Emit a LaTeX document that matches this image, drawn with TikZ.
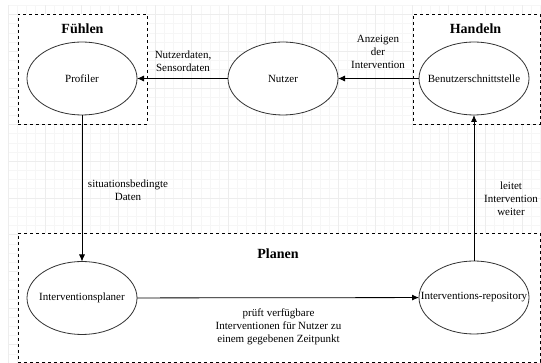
\documentclass[tikz,border=0pt]{standalone}
\usepackage{fontspec}
\setmainfont{Liberation Serif}
\usetikzlibrary{arrows.meta,shapes.geometric}
\begin{document}
\begin{tikzpicture}[x=1pt,y=-1pt,
  font=\fontsize{11}{13}\selectfont,
  group/.style={draw=black,fill=white,dash pattern=on 3pt off 3pt,line width=0.8pt},
  proc/.style={ellipse,draw=black!80,fill=white,line width=0.8pt,minimum width=110pt,minimum height=73pt,inner sep=0pt,outer sep=0pt},
  title/.style={font=\fontsize{14}{16}\selectfont\bfseries},
  lbl/.style={align=center,inner sep=0pt},
  flow/.style={draw=black,line width=0.8pt,-{Latex[length=7pt,width=6pt]}}]
\useasboundingbox (0,0) rectangle (541,363);
\fill[white] (0,0) rectangle (541,363);
% grid
\foreach \i in {0,...,58} {
  \draw[black!3.5,line width=0.6pt] ({8.2+9.175*\i},5.3) -- ({8.2+9.175*\i},363);
}
\foreach \i in {0,...,39} {
  \draw[black!3.5,line width=0.6pt] (8.2,{5.3+9.175*\i}) -- (541,{5.3+9.175*\i});
}
\foreach \i in {0,...,14} {
  \draw[black!7,line width=0.6pt] ({8.2+36.7*\i},5.3) -- ({8.2+36.7*\i},363);
}
\foreach \i in {0,...,9} {
  \draw[black!7,line width=0.6pt] (8.2,{14.5+36.7*\i}) -- (541,{14.5+36.7*\i});
}
% groups
\node[group,minimum width=129pt,minimum height=110pt,inner sep=0pt] (fuehlen) at (82.5,69) {};
\node[group,minimum width=127pt,minimum height=110pt,inner sep=0pt] (handeln) at (476.5,69) {};
\node[group,minimum width=522pt,minimum height=129pt,inner sep=0pt] (planen) at (279,297.5) {};
\node[title] (tf) at (82.5,29) {Fühlen};
\node[title] (th) at (475.5,29) {Handeln};
\node[title] (tp) at (278,254) {Planen};
% processes
\node[proc] (profiler) at (82,78.5) {\makebox[0pt]{Profiler}};
\node[proc] (nutzer) at (283,78.5) {\makebox[0pt]{Nutzer}};
\node[proc] (ui) at (474,78.5) {\makebox[0pt]{Benutzerschnittstelle}};
\node[proc] (planer) at (82,298) {\makebox[0pt]{Interventionsplaner}};
\node[proc] (repo) at (474,297.5) {\makebox[0pt]{Interventions-repository}};
% connectors
\draw[flow] (nutzer) -- (profiler);
\draw[flow] (ui) -- (nutzer);
\draw[flow] (profiler) -- (planer);
\draw[flow] (planer) -- (repo);
\draw[flow] (repo) -- (ui);
% labels
\node[lbl] (l1) at (183,61) {Nutzerdaten,\\Sensordaten};
\node[lbl] (l2) at (378,52) {Anzeigen\\der\\Intervention};
\node[lbl] (l3) at (128,190) {situationsbedingte\\Daten};
\node[lbl] (l4) at (511,198.5) {leitet\\Intervention\\weiter};
\node[lbl] (l5) at (278.5,326.5) {prüft verfügbare\\Interventionen für Nutzer zu\\einem gegebenen Zeitpunkt};
\end{tikzpicture}
\end{document}
